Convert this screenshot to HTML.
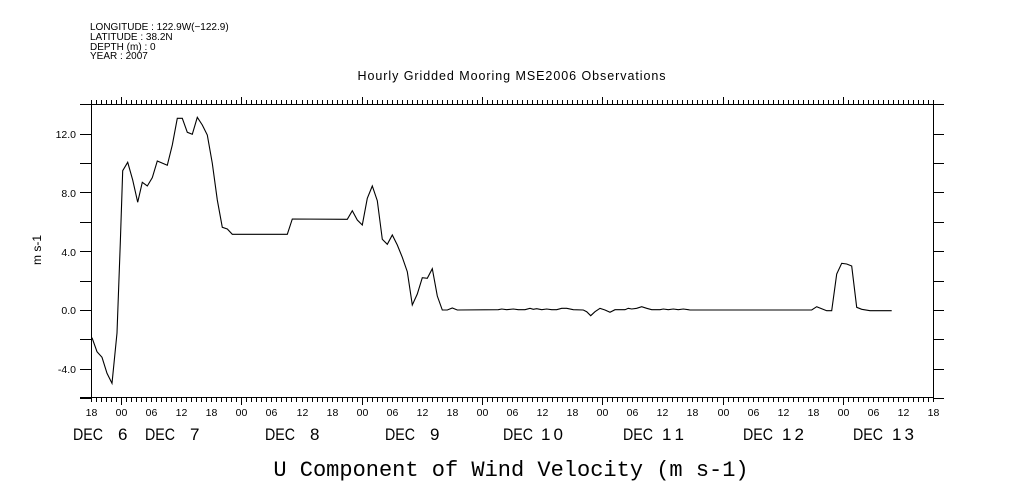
<!DOCTYPE html>
<html><head><meta charset="utf-8"><style>
html,body{margin:0;padding:0;background:#fff;}
svg{display:block;}
text{font-family:"Liberation Sans",sans-serif;fill:#000;}
</style></head><body>
<svg width="1009" height="504" viewBox="0 0 1009 504" xmlns="http://www.w3.org/2000/svg">
<g font-size="10">
<text x="90" y="30">LONGITUDE : 122.9W(−122.9)</text>
<text x="90" y="40">LATITUDE : 38.2N</text>
<text x="90" y="50">DEPTH (m) : 0</text>
<text x="90" y="59">YEAR : 2007</text>
</g>
<text x="512" y="80" font-size="12.5" text-anchor="middle" letter-spacing="0.95">Hourly Gridded Mooring MSE2006 Observations</text>
<g stroke="#000" stroke-width="1" fill="none" shape-rendering="crispEdges">
<line x1="80" y1="104.5" x2="934" y2="104.5"/>
<line x1="80" y1="397.5" x2="934" y2="397.5"/>
<line x1="91.5" y1="104" x2="91.5" y2="398"/>
<line x1="933.5" y1="104" x2="933.5" y2="398"/>
</g>
<g id="ticks" stroke="#000" stroke-width="1" shape-rendering="crispEdges"></g>
<g font-size="10.5" text-anchor="end">
<text x="76" y="138">12.0</text>
<text x="76" y="197">8.0</text>
<text x="76" y="256">4.0</text>
<text x="76" y="314">0.0</text>
<text x="76" y="373">-4.0</text>
</g>
<text transform="translate(41,250) rotate(-90)" font-size="12" text-anchor="middle">m s-1</text>
<g id="xl" font-size="10.5" text-anchor="middle"></g>
<g font-size="17">
<text x="73" y="440" textLength="30" lengthAdjust="spacingAndGlyphs">DEC</text><text x="118" y="440">6</text>
<text x="145" y="440" textLength="30" lengthAdjust="spacingAndGlyphs">DEC</text><text x="190" y="440">7</text>
<text x="265" y="440" textLength="30" lengthAdjust="spacingAndGlyphs">DEC</text><text x="310" y="440">8</text>
<text x="385" y="440" textLength="30" lengthAdjust="spacingAndGlyphs">DEC</text><text x="430" y="440">9</text>
<text x="503" y="440" textLength="30" lengthAdjust="spacingAndGlyphs">DEC</text><text x="541" y="440" textLength="22">10</text>
<text x="623" y="440" textLength="30" lengthAdjust="spacingAndGlyphs">DEC</text><text x="662" y="440" textLength="22">11</text>
<text x="743" y="440" textLength="30" lengthAdjust="spacingAndGlyphs">DEC</text><text x="782" y="440" textLength="22">12</text>
<text x="853" y="440" textLength="30" lengthAdjust="spacingAndGlyphs">DEC</text><text x="892" y="440" textLength="22">13</text>
</g>
<text x="511" y="476" font-size="22" text-anchor="middle" style="font-family:'Liberation Mono',monospace">U Component of Wind Velocity (m s-1)</text>
<polyline fill="none" stroke="#000" stroke-width="1.1" points="
92,337.7 97,351.7 102,357.3 107,373.3 112,383.3 117,333 120.3,243 122.7,170.7 127.7,162.3 132.7,180 137.7,202.3 142.3,182.3 147.3,186 152.3,177.7 157.3,161 167.3,165.3 172.3,145 177.3,118.3 182.3,118.3 187.3,132.3 192.3,134.3 197.3,117.3 202.3,125 207.3,135 212.3,163.3 217.3,200 222.3,227.3 227.3,229 232.3,234.3 287.3,234.3 292.3,219 347.3,219.3 352.3,210.7 357.3,220 362.3,225 367.3,198.3 372.3,186 377.3,200.7 382.3,239.3 387.3,244.3 392.3,235 397.3,245 402.3,257.3 407.3,271.7 412.3,305 417.3,294 422.3,277.7 427.3,278.3 432.3,268.7 437.3,296 442.3,310 447.3,310 452.3,308 457.3,310
498.3,309.7 501.7,309 506.7,309.7 513.3,309 518.3,309.7 525,309.7 530,308.3 533.3,309.3 536.7,308.7 541.7,309.7 546.7,309 551.7,309.7 556.7,309.7 561.7,308.3 566.7,308.3 573.3,309.7 583.3,310 586.7,311.7 590.7,315.7 595,311.7 600,308.3 605,310 610,312.3 615,309.7 625,309.7 628.3,308.3 631.7,309 636.7,308.3 641.7,306.7 646.7,308.3 651.7,309.7 660,309.7 663.3,309 668.3,309.7 673.3,309 678.3,309.7 683.3,309 688.3,309.7 690,310 811.7,310 816.7,306.7 821.7,308.7 826.7,310.7 831.7,310.7 836.7,274 841.7,263.3 846.7,264 851.7,266 856.7,307.3 861.7,309.3 870,310.7 891.7,310.7"/>
<script>
(function(){
var ns="http://www.w3.org/2000/svg",g=document.getElementById("ticks"),xl=document.getElementById("xl");
function L(x1,y1,x2,y2){var l=document.createElementNS(ns,"line");l.setAttribute("x1",x1);l.setAttribute("y1",y1);l.setAttribute("x2",x2);l.setAttribute("y2",y2);g.appendChild(l);}
var ppx=(933-91)/168;
var labs=["18","00","06","12"];
for(var h=0;h<=168;h++){
 var x=Math.round(91+h*ppx)+0.5;
 var major=((h+18)%24==0);
 var len=major?7:4;
 L(x,104,x,104-len);
 L(x,398,x,398+len);
 if(h%6==0){var t=document.createElementNS(ns,"text");t.setAttribute("x",x);t.setAttribute("y",416);t.textContent=labs[(h/6)%4];xl.appendChild(t);}
}
for(var v=-6;v<=14;v+=2){
 var y=Math.round(310-14.7*v)+0.5;
 L(80,y,91,y);
 L(933,y,944,y);
}
})();
</script>
</svg>
</body></html>
